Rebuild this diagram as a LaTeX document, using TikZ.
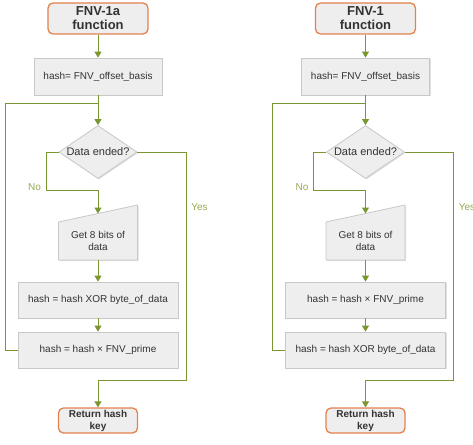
\documentclass[tikz,border=0pt]{standalone}
\usepackage{fontspec}
\setmainfont{Liberation Sans}
\usetikzlibrary{arrows.meta,shapes.geometric,shadows}
\definecolor{lgreen}{RGB}{122,150,48}
\definecolor{lblgreen}{RGB}{150,172,80}
\definecolor{orng}{RGB}{226,130,78}
\definecolor{boxfill}{RGB}{238,238,238}
\definecolor{boxline}{RGB}{200,200,200}
\definecolor{txt}{RGB}{51,51,51}
\tikzset{
  shad/.style={drop shadow={shadow xshift=1pt,shadow yshift=-1pt,opacity=0.25}},
  procbox/.style={draw=boxline, fill=boxfill, line width=0.8pt, inner sep=0pt,
    text=txt, align=center, font=\fontsize{10}{12}\selectfont, shad},
  termbox/.style={draw=orng, fill=boxfill, line width=1.3pt, rounded corners=5pt,
    inner sep=0pt, text=txt, align=center},
  decbox/.style={diamond, draw=boxline, fill=boxfill, line width=0.8pt, inner sep=0pt,
    aspect=1.47, minimum width=78pt, minimum height=53pt, text=txt,
    font=\fontsize{11}{12}\selectfont, shad},
  plaintext/.style={inner sep=0pt, text=txt, align=center, font=\fontsize{10}{12}\selectfont},
  flowline/.style={draw=lgreen, line width=1pt},
  flow/.style={flowline, -{Triangle[width=7pt,length=6pt]}},
  lbl/.style={text=lblgreen, inner sep=0pt, font=\fontsize{10}{12}\selectfont}
}
\newcommand{\fnvcol}[5]{%
  % #1 prefix, #2 center x, #3 title, #4 first op, #5 second op
  \node[termbox, minimum width=100pt, minimum height=31pt,
    font=\bfseries\fontsize{13}{14}\selectfont] (#1start) at (#2,18.5) {#3\\function};
  \node[procbox, minimum width=128pt, minimum height=37pt] (#1off) at (#2,76.5) {hash= FNV\_offset\_basis};
  \node[decbox] (#1dec) at (#2,152) {Data ended?};
  \draw[boxline, fill=boxfill, line width=0.8pt, shad]
    (#2-39.5,222) -- (#2+39.5,205) -- (#2+39.5,260) -- (#2-39.5,260) -- cycle;
  \node[plaintext, minimum width=79pt, minimum height=38pt] (#1get) at (#2,241) {Get 8 bits of\\data};
  \coordinate (#1gettop) at (#2,213.5);
  \node[procbox, minimum width=160pt, minimum height=36pt] (#1opa) at (#2,300) {#4};
  \node[procbox, minimum width=160pt, minimum height=36pt] (#1opb) at (#2,350) {#5};
  \node[termbox, minimum width=79pt, minimum height=25pt,
    font=\bfseries\fontsize{10}{12}\selectfont] (#1ret) at (#2,420.5) {Return hash\\key};
  \coordinate (#1junc) at (#2,103);
  \coordinate (#1loop) at (#2-93,350);
  \coordinate (#1noA) at (#2-52,190);
  \coordinate (#1noB) at (#2,190);
  \coordinate (#1yesA) at (#2+88,380);
  \coordinate (#1yesB) at (#2,380);
  \draw[flow] (#1start) -- (#1off);
  \draw[flow] (#1off) -- (#1dec);
  \draw[flowline] (#1opb.west) -- (#1loop) |- (#1junc);
  \draw[flow] (#1dec.west) -| (#1noA) -- (#1noB) -- (#1gettop);
  \draw[flow] (#1get.south) -- (#1opa);
  \draw[flow] (#1opa) -- (#1opb);
  \draw[flow] (#1dec.east) -| (#1yesA) -- (#1yesB) -- (#1ret);
  \node[lbl] (#1nolbl) at (#2-63.5,187) {No};
  \node[lbl] (#1yeslbl) at (#2+101.5,207) {Yes};
}
\begin{document}
\begin{tikzpicture}[x=1pt,y=-1pt]
  \useasboundingbox[fill=white] (0,0) rectangle (473,444);
  \fnvcol{L}{98}{FNV-1a}{hash = hash XOR byte\_of\_data}{hash = hash × FNV\_prime}
  \fnvcol{R}{365.5}{FNV-1}{hash = hash × FNV\_prime}{hash = hash XOR byte\_of\_data}
\end{tikzpicture}
\end{document}
